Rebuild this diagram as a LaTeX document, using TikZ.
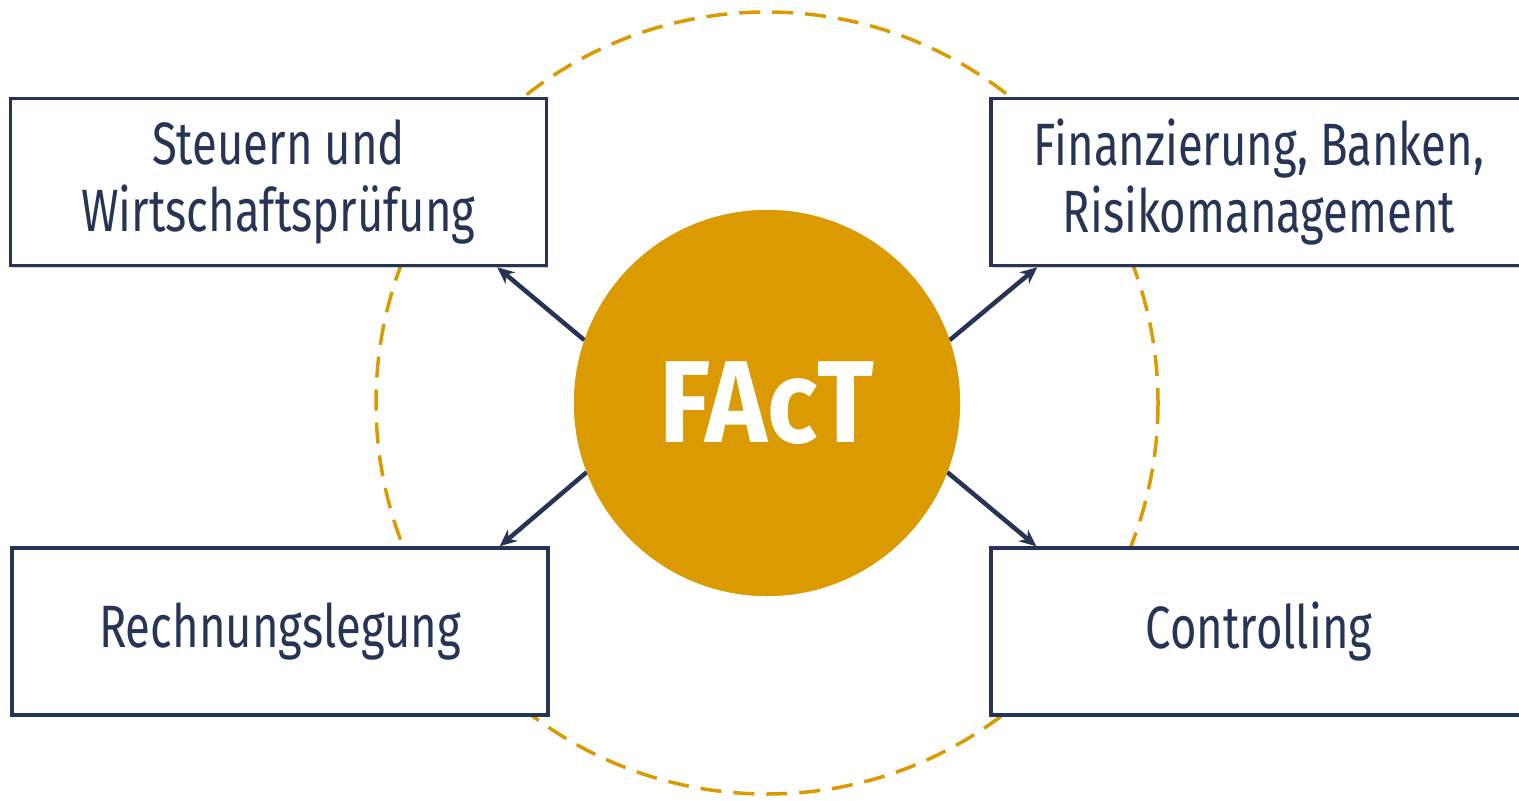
\documentclass[tikz,border=0pt]{standalone}
\usepackage{fontspec}
\setmainfont{Fira Sans}[FakeStretch=0.76]
\newfontfamily\corefont{Fira Sans}[FakeStretch=0.9]
\usetikzlibrary{arrows.meta,shadows}
\definecolor{navy}{HTML}{263556}
\definecolor{gold}{HTML}{DA9A00}
\begin{document}
\begin{tikzpicture}[x=1bp,y=-1bp,
  box/.style={draw=navy, line width=3.5bp, fill=white, minimum width=536bp,
    minimum height=167bp, inner sep=0pt, text=navy, align=center,
    font=\fontsize{60}{67}\selectfont,
    drop shadow={shadow xshift=1.5bp, shadow yshift=-2bp, opacity=0.18, fill=black}},
  link/.style={draw=navy, line width=4.5bp, -{Stealth[length=17bp,width=15bp]}},
  core/.style={circle, fill=gold, minimum size=386bp, inner sep=0pt, text=white,
    font=\corefont\bfseries\fontsize{117}{117}\selectfont}]
\useasboundingbox (0,0) rectangle (1519,800);
\clip (0,0) rectangle (1519,800);

% dashed ring behind everything
\draw[gold, line width=3.5bp, dash pattern=on 21bp off 12bp] (767,403) circle [radius=391];

% the four fields
\node[box] (tl) at (278.5,182) {Steuern und\\Wirtschaftsprüfung};
\node[box] (tr) at (1259,182) {Finanzierung, Banken,\\Risikomanagement};
\node[box] (bl) at (280,631.5) {Rechnungslegung};
\node[box] (br) at (1259,631.5) {Controlling};

% arrow targets on the box edges
\coordinate (tlend) at ([xshift=-51bp]tl.south east);
\coordinate (trend) at ([xshift=48bp]tr.south west);
\coordinate (blend) at ([xshift=-50bp]bl.north east);
\coordinate (brend) at ([xshift=47bp]br.north west);

% centre
\node[core] (fact) at (767,403) {};
\draw[link] (fact.161) -- (tlend);
\draw[link] (fact.19) -- (trend);
\draw[link] (fact.201) -- (blend);
\draw[link] (fact.339) -- (brend);
\node[core] (factfill) at (767,403) {FAcT};
\end{tikzpicture}
\end{document}
